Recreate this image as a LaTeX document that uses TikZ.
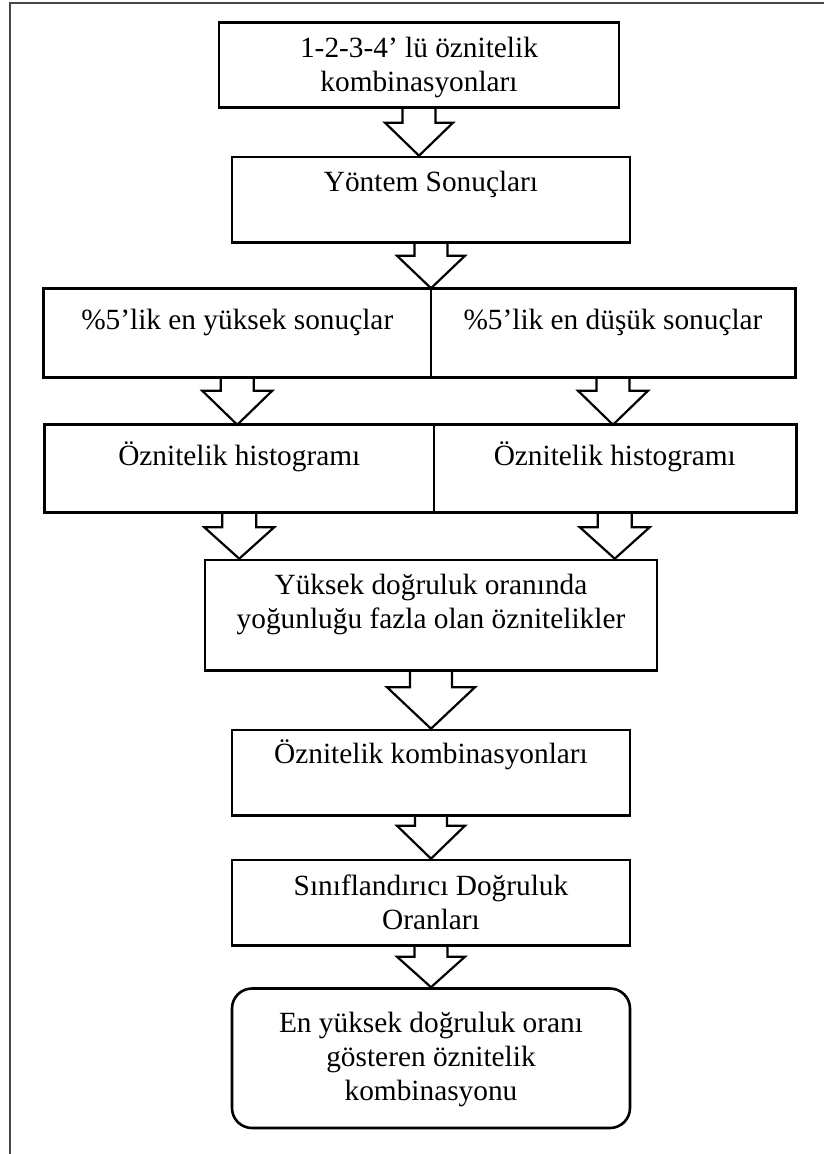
\documentclass[tikz,border=0pt]{standalone}
\usepackage{fontspec}
\setmainfont{Liberation Serif}
\usetikzlibrary{calc}

% one pixel of the drawing grid
\newcommand\pxu{0.75pt}

% hollow block arrow: start, tip, shaft half width, head half width, head length (grid units)
\newcommand\blockarrow[5]{%
  \draw[arrowline] let \p1=(#1), \p2=(#2) in
    (\x1-#3*\pxu,\y1) -- (\x1-#3*\pxu,\y2+#5*\pxu) -- (\x1-#4*\pxu,\y2+#5*\pxu)
    -- (\x1,\y2)
    -- (\x1+#4*\pxu,\y2+#5*\pxu) -- (\x1+#3*\pxu,\y2+#5*\pxu) -- (\x1+#3*\pxu,\y1);%
}

\tikzset{
  box/.style={draw=black, line width=1.95pt, inner sep=0pt},
  halfbox/.style={inner sep=0pt},
  outline/.style={draw=black, line width=1.95pt},
  divider/.style={draw=black, line width=1.5pt},
  arrowline/.style={draw=black, line width=1.65pt, line join=miter},
  lbl/.style={font=\fontsize{22}{25.5}\selectfont, align=center, inner sep=0pt, anchor=north},
  frameline/.style={draw=black!72, line width=1.5pt},
}

\begin{document}
\begin{tikzpicture}[x=0.75pt,y=-0.75pt]
\useasboundingbox (0,0) rectangle (824,1154);

% page frame (left and top edges only)
\coordinate (fbl) at (10,1154);
\coordinate (ftl) at (10,2.5);
\coordinate (ftr) at (824,2.5);
\draw[frameline] (fbl) -- (ftl) -- (ftr);

% boxes
\node[box, minimum width=400*\pxu, minimum height=84.6*\pxu] (b1) at (419,65) {};
\node[box, minimum width=398*\pxu, minimum height=85.5*\pxu] (b2) at (431,199.75) {};

\node[halfbox, minimum width=387.5*\pxu, minimum height=88.5*\pxu] (b3L) at (237.25,332.75) {};
\node[halfbox, minimum width=364*\pxu, minimum height=88.5*\pxu] (b3R) at (613,332.75) {};
\draw[outline] (b3L.north west) rectangle (b3R.south east);
\draw[divider] (b3L.north east) -- (b3L.south east);

\node[halfbox, minimum width=388.5*\pxu, minimum height=87.5*\pxu] (b4L) at (239.25,468.75) {};
\node[halfbox, minimum width=362.5*\pxu, minimum height=87.5*\pxu] (b4R) at (614.75,468.75) {};
\draw[outline] (b4L.north west) rectangle (b4R.south east);
\draw[divider] (b4L.north east) -- (b4L.south east);

\node[box, minimum width=452*\pxu, minimum height=110.5*\pxu] (b5) at (431,615.25) {};
\node[box, minimum width=398*\pxu, minimum height=85.5*\pxu] (b6) at (431,772.75) {};
\node[box, minimum width=398*\pxu, minimum height=85.5*\pxu] (b7) at (431,902.75) {};
\node[box, rounded corners=20*\pxu, minimum width=398*\pxu, minimum height=139.5*\pxu] (b8) at (431,1058.25) {};

% texts
\node[lbl] (t1) at (419,33.7) {\strut 1-2-3-4’ lü öznitelik\\\strut kombinasyonları};
\node[lbl] (t2) at (431,167.9) {\strut Yöntem Sonuçları};
\node[lbl] (t3L) at (237.25,305.2) {\strut \%5’lik en yüksek sonuçlar};
\node[lbl] (t3R) at (613,305.2) {\strut \%5’lik en düşük sonuçlar};
\node[lbl] (t4L) at (239.25,441.2) {\strut Öznitelik histogramı};
\node[lbl] (t4R) at (614.75,441.2) {\strut Öznitelik histogramı};
\node[lbl] (t5) at (431,570.2) {\strut Yüksek doğruluk oranında\\\strut yoğunluğu fazla olan öznitelikler};
\node[lbl] (t6) at (431,739.5) {\strut Öznitelik kombinasyonları};
\node[lbl] (t7) at (431,871.2) {\strut Sınıflandırıcı Doğruluk\\\strut Oranları};
\node[lbl] (t8) at (431,1008.2) {\strut En yüksek doğruluk oranı\\\strut gösteren öznitelik\\\strut kombinasyonu};

% block arrows
\blockarrow{b1.south}{b1.south |- b2.north}{16.5}{34}{33}
\blockarrow{b2.south}{b2.south |- b3L.north}{16.5}{34}{32.5}
\blockarrow{b3L.south}{b3L.south |- b4L.north}{16.5}{35}{34}
\blockarrow{b3R.south}{b3R.south |- b4R.north}{16.5}{35}{34}
\blockarrow{b4L.south}{b4L.south |- b5.north}{17}{35}{31.5}
\blockarrow{b4R.south}{b4R.south |- b5.north}{17}{35}{31.5}
\blockarrow{b5.south}{b5.south |- b6.north}{21}{44}{41.5}
\blockarrow{b6.south}{b6.south |- b7.north}{16}{34}{33}
\blockarrow{b7.south}{b7.south |- b8.north}{16.5}{34}{30.5}
\end{tikzpicture}
\end{document}
